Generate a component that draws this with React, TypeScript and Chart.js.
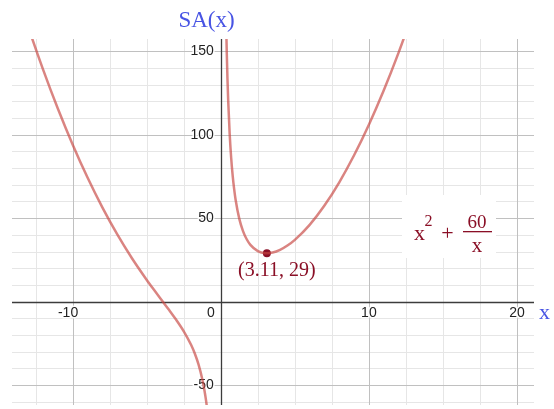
import React, { useEffect, useRef } from "react";
import { Chart, registerables } from "chart.js";

Chart.register(...registerables);

// SA(x) = x^2 + 60/x, sampled on the negative branch
const negX = [-14, -13, -12, -11, -10, -9, -8, -7, -6, -5, -4.5, -4, -3.5, -3, -2.5, -2, -1.75, -1.5, -1.25, -1.1, -1, -0.9, -0.8];
const negY = [191.71, 164.38, 139, 115.55, 94, 74.33, 56.5, 40.43, 26, 13, 6.92, 1, -4.89, -11, -17.75, -26, -31.22, -37.75, -46.44, -53.34, -59, -65.86, -74.36];

// ...and on the positive branch
const posX = [0.3, 0.35, 0.4, 0.45, 0.5, 0.6, 0.7, 0.8, 0.9, 1, 1.25, 1.5, 1.75, 2, 2.5, 3, 3.11, 3.5, 4, 4.5, 5, 6, 7, 8, 9, 10, 11, 12, 13];
const posY = [200.09, 171.55, 150.16, 133.54, 120.25, 100.36, 86.2, 75.64, 67.48, 61, 49.56, 42.25, 37.35, 34, 30.25, 29, 28.97, 29.39, 31, 33.58, 37, 46, 57.57, 71.5, 87.67, 106, 126.45, 149, 173.62];

// Minimum of the surface area
const minX = 3.11;
const minY = 29;

// Axis ticks and grid steps
const xTickLabels = [-10, 0, 10, 20];
const yTickLabels = [-50, 50, 100, 150];
const xMinorStep = 2.5;
const xMajorStep = 10;
const yMinorStep = 10;
const yMajorStep = 50;

const xRange = [-14.1, 21.15];
const yRange = [-61.9, 157.3];

const SERIF = '"Liberation Serif", "Times New Roman", serif';
const SANS = '"Liberation Sans", Arial, sans-serif';
const CURVE = "rgba(199, 68, 64, 0.66)";
const DARK_RED = "#8a0f26";
const AXIS_BLUE = "rgb(72, 84, 228)";

function isMultiple(v: number, step: number) {
  return Math.abs(v / step - Math.round(v / step)) < 1e-6;
}

const gridPlugin = {
  id: "cartesianGrid",
  beforeDatasetsDraw(chart: any) {
    const { ctx, chartArea: a } = chart;
    const xs = chart.scales.x;
    const ys = chart.scales.y;
    ctx.save();

    const vLine = (v: number, color: string, w: number) => {
      const p = Math.round(xs.getPixelForValue(v)) + 0.5;
      ctx.strokeStyle = color;
      ctx.lineWidth = w;
      ctx.beginPath();
      ctx.moveTo(p, a.top);
      ctx.lineTo(p, a.bottom);
      ctx.stroke();
    };
    const hLine = (v: number, color: string, w: number) => {
      const p = Math.round(ys.getPixelForValue(v)) + 0.5;
      ctx.strokeStyle = color;
      ctx.lineWidth = w;
      ctx.beginPath();
      ctx.moveTo(a.left, p);
      ctx.lineTo(a.right, p);
      ctx.stroke();
    };

    // minor grid
    for (let v = Math.ceil(xRange[0] / xMinorStep) * xMinorStep; v <= xRange[1]; v += xMinorStep) {
      if (!isMultiple(v, xMajorStep)) vLine(v, "rgb(230,230,230)", 1);
    }
    for (let v = Math.ceil(yRange[0] / yMinorStep) * yMinorStep; v <= yRange[1]; v += yMinorStep) {
      if (!isMultiple(v, yMajorStep)) hLine(v, "rgb(230,230,230)", 1);
    }
    // major grid
    for (let v = Math.ceil(xRange[0] / xMajorStep) * xMajorStep; v <= xRange[1]; v += xMajorStep) {
      if (Math.abs(v) > 1e-9) vLine(v, "rgb(192,192,192)", 1);
    }
    for (let v = Math.ceil(yRange[0] / yMajorStep) * yMajorStep; v <= yRange[1]; v += yMajorStep) {
      if (Math.abs(v) > 1e-9) hLine(v, "rgb(192,192,192)", 1);
    }
    // axes
    vLine(0, "rgb(60,60,60)", 1.3);
    hLine(0, "rgb(60,60,60)", 1.3);

    const x0 = xs.getPixelForValue(0);
    const y0 = ys.getPixelForValue(0);

    // tick labels with a white halo
    ctx.font = `14px ${SANS}`;
    ctx.lineJoin = "round";
    const label = (t: string, px: number, py: number, align: CanvasTextAlign) => {
      ctx.textAlign = align;
      ctx.textBaseline = "middle";
      ctx.strokeStyle = "rgba(255,255,255,0.9)";
      ctx.lineWidth = 3;
      ctx.strokeText(t, px, py);
      ctx.fillStyle = "#222";
      ctx.fillText(t, px, py);
    };
    const minusW = ctx.measureText("-").width;
    xTickLabels.forEach((v) => {
      const t = String(v);
      if (v === 0) {
        label(t, x0 - 6, y0 + 11, "right");
      } else {
        const shift = v < 0 ? minusW : 0;
        label(t, xs.getPixelForValue(v) - shift, y0 + 11, "center");
      }
    });
    yTickLabels.forEach((v) => {
      label(String(v), x0 - 7, ys.getPixelForValue(v), "right");
    });
    ctx.restore();
  },
  afterDatasetsDraw(chart: any) {
    const { ctx } = chart;
    const xs = chart.scales.x;
    const ys = chart.scales.y;
    ctx.save();

    // label of the minimum
    const px = xs.getPixelForValue(minX);
    const py = ys.getPixelForValue(minY);
    ctx.font = `20px ${SERIF}`;
    ctx.fillStyle = DARK_RED;
    ctx.textAlign = "center";
    ctx.textBaseline = "alphabetic";
    ctx.fillText(`(${minX}, ${minY})`, px + 10, py + 23);

    // expression box
    const bx = 402, by = 195, bw = 94, bh = 63;
    ctx.fillStyle = "#fff";
    ctx.fillRect(bx, by, bw, bh);
    ctx.fillStyle = DARK_RED;
    ctx.textAlign = "left";
    ctx.font = `22px ${SERIF}`;
    ctx.fillText("x", 414, 240);
    ctx.font = `16px ${SERIF}`;
    ctx.fillText("2", 424.5, 225.5);
    ctx.font = `22px ${SERIF}`;
    ctx.textAlign = "center";
    ctx.fillText("+", 447.5, 240);
    ctx.font = `19px ${SERIF}`;
    ctx.fillText("60", 477, 228);
    ctx.fillRect(463, 231, 29, 1.3);
    ctx.font = `21px ${SERIF}`;
    ctx.fillText("x", 477, 252);

    // axis titles
    ctx.fillStyle = AXIS_BLUE;
    ctx.font = `23px ${SERIF}`;
    ctx.textAlign = "center";
    ctx.fillText("SA(x)", 206.5, 27);
    ctx.font = `22px ${SERIF}`;
    ctx.textAlign = "left";
    ctx.fillText("x", 539, 318.5);
    ctx.restore();
  },
};

export default function App() {
  const canvasRef = useRef<HTMLCanvasElement | null>(null);

  useEffect(() => {
    document.body.style.margin = "0";
    document.body.style.overflow = "hidden";
    const canvas = canvasRef.current;
    if (!canvas) return;

    const chart = new Chart(canvas, {
      type: "scatter",
      data: {
        datasets: [
          {
            type: "line",
            data: negX.map((x, i) => ({ x, y: negY[i] })),
            borderColor: CURVE,
            borderWidth: 2.5,
            pointRadius: 0,
            fill: false,
            cubicInterpolationMode: "monotone",
          },
          {
            type: "line",
            data: posX.map((x, i) => ({ x, y: posY[i] })),
            borderColor: CURVE,
            borderWidth: 2.5,
            pointRadius: 0,
            fill: false,
            cubicInterpolationMode: "monotone",
          },
          {
            type: "scatter",
            data: [{ x: minX, y: minY }],
            backgroundColor: DARK_RED,
            borderColor: DARK_RED,
            pointRadius: 4,
            borderWidth: 0,
          },
        ],
      } as any,
      options: {
        responsive: false,
        animation: false,
        events: [],
        layout: { padding: { left: 12, right: 20, top: 39, bottom: 0 } },
        plugins: {
          legend: { display: false },
          tooltip: { enabled: false },
        },
        scales: {
          x: { type: "linear", min: xRange[0], max: xRange[1], display: false },
          y: { type: "linear", min: yRange[0], max: yRange[1], display: false },
        },
      },
      plugins: [gridPlugin],
    });

    return () => chart.destroy();
  }, []);

  return (
    <div style={{ width: 554, height: 409, background: "#fff" }}>
      <canvas ref={canvasRef} width={554} height={409} style={{ display: "block" }} />
    </div>
  );
}
